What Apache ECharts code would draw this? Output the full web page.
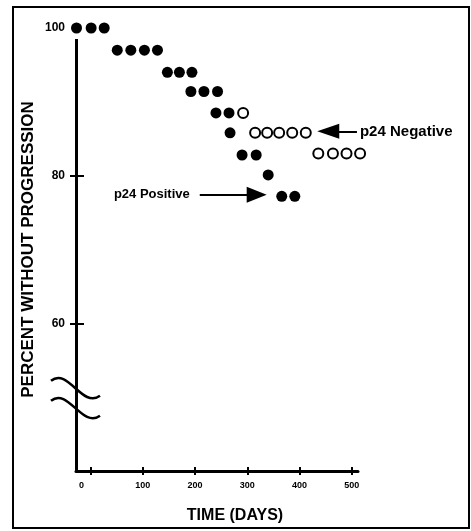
<!DOCTYPE html>
<html>
<head>
<meta charset="utf-8">
<script src="https://cdn.jsdelivr.net/npm/echarts@6/dist/echarts.min.js"></script>
<style>
  html, body { margin: 0; padding: 0; background: #fff; }
  #chart { width: 471px; height: 531px; }
</style>
</head>
<body>
<div id="chart"></div>
<script>
// p24 Positive (filled dots): days and percent without progression
const positiveDays = [-27, 1, 26, 51, 77, 103, 128, 147, 170, 194, 192, 217, 243, 240, 265, 267, 290, 317, 340, 366, 391];
const positivePercent = [100, 100, 100, 97.0, 97.0, 97.0, 97.0, 94.0, 94.0, 94.0, 91.4, 91.4, 91.4, 88.5, 88.5, 85.8, 82.8, 82.8, 80.1, 77.2, 77.2];

// p24 Negative (open circles)
const negativeDays = [292, 315, 338, 361, 386, 412, 436, 464, 490, 516];
const negativePercent = [88.5, 85.8, 85.8, 85.8, 85.8, 85.8, 83.0, 83.0, 83.0, 83.0];

const xTicks = [0, 100, 200, 300, 400, 500];
const yTicks = [60, 80];
const yLabels = [60, 80, 100];

// arrows: [fromDay, toDay, percent]
const positiveArrow = [209, 318, 77.4];
const negativeArrow = [510, 455, 86.0];

const xMin = -28, xMax = 512, yMin = 40, yMax = 100;
const font = 'Liberation Sans';

const chart = echarts.init(document.getElementById('chart'), null, { renderer: 'canvas' });

function zip(xs, ys) { return xs.map((x, i) => [x, ys[i]]); }

function arrowSeries(arrow, text, labelStyle, size) {
  return {
    type: 'line',
    data: [],
    silent: true,
    markLine: {
      silent: true,
      symbol: ['none', 'triangle'],
      symbolSize: size,
      lineStyle: { color: '#000', width: 2, type: 'solid' },
      label: Object.assign({ show: true, position: 'start', formatter: text, color: '#000', fontFamily: font }, labelStyle),
      data: [[{ coord: [arrow[0], arrow[2]] }, { coord: [arrow[1], arrow[2]] }]],
    },
  };
}

chart.setOption({
  animation: false,
  backgroundColor: '#fff',
  grid: { left: 76, top: 28, width: 282, height: 443, containLabel: false, outerBoundsMode: 'none' },
  xAxis: [
    {
      type: 'value', min: xMin, max: xMax, position: 'bottom',
      name: 'TIME (DAYS)', nameLocation: 'middle', nameGap: 37, nameMoveOverlap: false,
      nameTextStyle: { fontFamily: font, fontSize: 16, fontWeight: 'bold', color: '#000', padding: [0, 0, 0, 36] },
      axisLine: { show: true, onZero: false, lineStyle: { color: '#000', width: 3 } },
      axisTick: { show: true, length: 4, customValues: xTicks, lineStyle: { color: '#000', width: 2 } },
      axisLabel: {
        customValues: xTicks, margin: 10, color: '#000', fontFamily: font, fontSize: 9, fontWeight: 'bold',
        formatter: (v) => (v === 0 ? '{z|0}' : String(v)),
        rich: { z: { padding: [0, 18, 0, 0], fontFamily: font, fontSize: 9, fontWeight: 'bold', color: '#000' } },
      },
      splitLine: { show: false },
    },
    {
      type: 'value', min: xMin, max: xMax, position: 'bottom',
      axisLine: { show: false, onZero: false },
      axisTick: { show: true, inside: true, length: 4, customValues: xTicks, lineStyle: { color: '#000', width: 2 } },
      axisLabel: { show: false },
      splitLine: { show: false },
    },
  ],
  yAxis: [
    {
      type: 'value', min: yMin, max: yMax, position: 'left',
      name: 'PERCENT WITHOUT PROGRESSION', nameLocation: 'middle', nameGap: 39, nameMoveOverlap: false,
      nameTextStyle: { fontFamily: font, fontSize: 17, fontWeight: 'bold', color: '#000' },
      axisLine: { show: false, onZero: false },
      axisTick: { show: true, length: 6, customValues: yTicks, lineStyle: { color: '#000', width: 2 } },
      axisLabel: { customValues: yLabels, margin: 11, color: '#000', fontFamily: font, fontSize: 12, fontWeight: 'bold' },
      splitLine: { show: false },
    },
    {
      type: 'value', min: yMin, max: yMax, position: 'left',
      axisLine: { show: false, onZero: false },
      axisTick: { show: true, inside: true, length: 8, customValues: yTicks, lineStyle: { color: '#000', width: 2 } },
      axisLabel: { show: false },
      splitLine: { show: false },
    },
  ],
  series: [
    {
      // y axis line, stopping short of the 100 row as in the figure
      type: 'line', data: [], silent: true,
      markLine: {
        silent: true, symbol: ['none', 'none'], label: { show: false },
        lineStyle: { color: '#000', width: 3, type: 'solid' },
        data: [[{ coord: [xMin, yMin] }, { coord: [xMin, 98.5] }]],
      },
    },
    {
      name: 'p24 Positive', type: 'scatter', clip: false,
      symbol: 'circle', symbolSize: 11,
      itemStyle: { color: '#000', opacity: 1 },
      data: zip(positiveDays, positivePercent),
    },
    {
      name: 'p24 Negative', type: 'scatter', clip: false,
      symbol: 'emptyCircle', symbolSize: 10,
      itemStyle: { color: '#000', opacity: 1, borderWidth: 1.6 },
      data: zip(negativeDays, negativePercent),
    },
    arrowSeries(positiveArrow, 'p24 Positive', { fontSize: 13, fontWeight: 'bold', distance: 10 }, [16, 20]),
    arrowSeries(negativeArrow, 'p24 Negative', { fontSize: 15, fontWeight: 'bold', distance: 3 }, [15, 22]),
  ],
});

// axis-break squiggles and the frame
function wave(p) {
  return {
    type: 'bezierCurve', x: p[0], y: p[1], silent: true,
    shape: { x1: -25, y1: -6, cpx1: -8, cpy1: -20, cpx2: 6, cpy2: 22, x2: 24, y2: 9 },
    style: { stroke: '#000', lineWidth: 2.5, fill: null },
  };
}
const up = chart.convertToPixel({ gridIndex: 0 }, [xMin, 51.4]);
const low = chart.convertToPixel({ gridIndex: 0 }, [xMin, 48.7]);
chart.setOption({
  graphic: [
    { type: 'rect', silent: true, shape: { x: 13, y: 7, width: 456, height: 521 }, style: { fill: null, stroke: '#000', lineWidth: 2 } },
    wave(up),
    wave(low),
  ],
});
</script>
</body>
</html>
